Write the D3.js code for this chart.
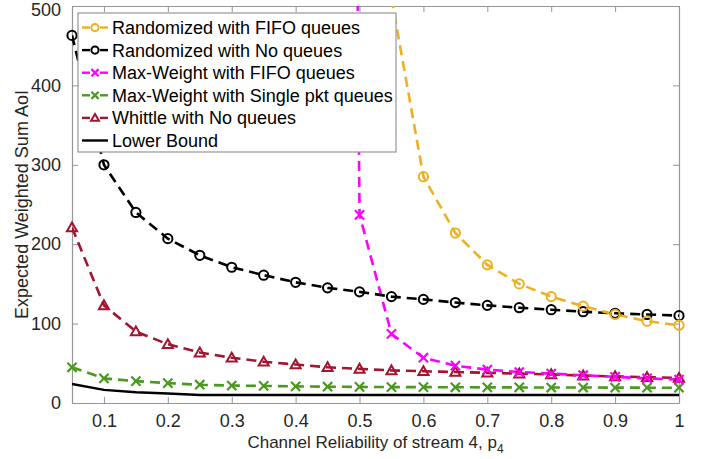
<!DOCTYPE html>
<html>
<head>
<meta charset="utf-8">
<script src="https://cdnjs.cloudflare.com/ajax/libs/d3/7.8.5/d3.min.js"></script>
<style>
  body { margin: 0; background: #fff; }
  svg { font-family: "Liberation Sans", Arial, sans-serif; }
</style>
</head>
<body>
<div id="chart"></div>
<script>
// channel reliability of stream 4
var p4 = [0.05, 0.1, 0.15, 0.2, 0.25, 0.3, 0.35, 0.4, 0.45, 0.5,
          0.55, 0.6, 0.65, 0.7, 0.75, 0.8, 0.85, 0.9, 0.95, 1];

// expected weighted sum AoI for each policy (null = not plotted / unstable)
var randFifo   = [null, null, null, null, null, null, null, null, null, null,
                  510, 285, 214, 174, 150, 134, 122, 111.5, 103, 98];
var randNoQ    = [463, 300, 240, 207, 186, 171, 161, 152, 145, 140,
                  134, 130.5, 126.5, 123, 120, 117.5, 115, 113, 111.5, 110];
var mwFifo     = [null, null, null, null, null, null, null, null, 5000, 237,
                  87, 57, 47, 42, 39, 37, 35, 33, 31, 29.5];
var mwSingle   = [45, 31, 27.5, 25, 23, 22, 21.5, 21, 20.5, 20.3,
                  20, 20, 19.8, 19.7, 19.6, 19.5, 19.5, 19.4, 19.3, 19.3];
var whittleNoQ = [221, 123, 90, 74, 63.5, 57, 52, 48.5, 45, 43,
                  41, 40, 39, 38, 37, 36, 34.5, 33.5, 32.5, 31.5];
var lowerBound = [24, 16.5, 13.5, 12, 10, 10, 10, 10, 10, 10,
                  10, 10, 10, 10, 10, 10, 10, 10, 10, 10];

var xTicks = [0.1, 0.2, 0.3, 0.4, 0.5, 0.6, 0.7, 0.8, 0.9, 1];
var yTicks = [0, 100, 200, 300, 400, 500];

var series = [
  {name: "Randomized with FIFO queues",        values: randFifo,   color: "#EDB120", marker: "circle",   dash: true},
  {name: "Randomized with No queues",          values: randNoQ,    color: "#000000", marker: "circle",   dash: true},
  {name: "Max-Weight with FIFO queues",        values: mwFifo,     color: "#FF00FF", marker: "cross",    dash: true},
  {name: "Max-Weight with Single pkt queues",  values: mwSingle,   color: "#4A9A1E", marker: "cross",    dash: true},
  {name: "Whittle with No queues",             values: whittleNoQ, color: "#A2142F", marker: "triangle", dash: true},
  {name: "Lower Bound",                        values: lowerBound, color: "#000000", marker: null,       dash: false}
];

var width = 712, height = 459;
var plot = {left: 72, top: 6, right: 679, bottom: 403};
var fontSize = "18px";

var svg = d3.select("#chart").append("svg")
    .attr("width", width)
    .attr("height", height);

var x = d3.scaleLinear().domain([0.05, 1]).range([plot.left, plot.right]);
var y = d3.scaleLinear().domain([0, 500]).range([plot.bottom, plot.top]);

svg.append("defs").append("clipPath").attr("id", "plotclip")
    .append("rect")
    .attr("x", plot.left).attr("y", plot.top)
    .attr("width", plot.right - plot.left)
    .attr("height", plot.bottom - plot.top);

var axisColor = "#969696", textColor = "#262626";

// axes: bottom/left with labels, top/right as plain box with inward ticks
var tickLen = 6;
svg.append("g")
    .attr("transform", "translate(0," + plot.bottom + ")")
    .call(d3.axisBottom(x).tickValues(xTicks).tickFormat(d3.format("")).tickSizeInner(-tickLen).tickSizeOuter(0).tickPadding(11))
    .call(styleAxis);
svg.append("g")
    .attr("transform", "translate(0," + plot.top + ")")
    .call(d3.axisTop(x).tickValues(xTicks).tickFormat("").tickSizeInner(-tickLen).tickSizeOuter(0))
    .call(styleAxis);
var yAxis = svg.append("g")
    .attr("transform", "translate(" + plot.left + ",0)")
    .call(d3.axisLeft(y).tickValues(yTicks).tickSizeInner(-tickLen).tickSizeOuter(0).tickPadding(11))
    .call(styleAxis);
svg.append("g")
    .attr("transform", "translate(" + plot.right + ",0)")
    .call(d3.axisRight(y).tickValues(yTicks).tickFormat("").tickSizeInner(-tickLen).tickSizeOuter(0))
    .call(styleAxis);

// keep the top label inside the window
yAxis.selectAll(".tick text").filter(function(d) { return d === 500; }).attr("dy", "0.55em");

function styleAxis(g) {
  g.select(".domain").attr("stroke", axisColor).attr("stroke-width", 1.2);
  g.selectAll(".tick line").attr("stroke", axisColor).attr("stroke-width", 1);
  g.selectAll(".tick text").attr("fill", textColor).style("font-size", fontSize);
}

// axis titles
svg.append("text")
    .attr("x", (plot.left + plot.right) / 2)
    .attr("y", 448)
    .attr("text-anchor", "middle")
    .attr("fill", textColor)
    .style("font-size", "17px")
    .text("Channel Reliability of stream 4, p")
  .append("tspan")
    .attr("dy", 5)
    .style("font-size", "12px")
    .text("4");

svg.append("text")
    .attr("transform", "translate(22," + ((plot.top + plot.bottom) / 2) + ") rotate(-90)")
    .attr("text-anchor", "middle")
    .attr("dy", "0.35em")
    .attr("fill", textColor)
    .style("font-size", fontSize)
    .text("Expected Weighted Sum AoI");

var line = d3.line()
    .defined(function(d) { return d[1] != null; })
    .x(function(d) { return x(d[0]); })
    .y(function(d) { return y(d[1]); });

var lines = svg.append("g").attr("clip-path", "url(#plotclip)");
var marks = svg.append("g");

function drawMarker(g, type, cx, cy, color, size) {
  if (type === "circle") {
    g.append("circle").attr("cx", cx).attr("cy", cy).attr("r", size)
      .attr("fill", "none").attr("stroke", color).attr("stroke-width", 2);
  } else if (type === "cross") {
    var s = size;
    g.append("path")
      .attr("d", "M" + (cx - s) + "," + (cy - s) + "L" + (cx + s) + "," + (cy + s) +
                 "M" + (cx - s) + "," + (cy + s) + "L" + (cx + s) + "," + (cy - s))
      .attr("stroke", color).attr("stroke-width", 2.2).attr("fill", "none");
  } else if (type === "triangle") {
    var h = size * 1.1;
    g.append("path")
      .attr("d", "M" + cx + "," + (cy - h) + "L" + (cx + h) + "," + (cy + h * 0.75) +
                 "L" + (cx - h) + "," + (cy + h * 0.75) + "Z")
      .attr("stroke", color).attr("stroke-width", 2).attr("fill", "none");
  }
}

// draw series back to front so the first legend entry sits on top
series.slice().reverse().forEach(function(s) {
  var pts = p4.map(function(p, i) { return [p, s.values[i]]; });
  lines.append("path")
    .datum(pts)
    .attr("d", line)
    .attr("fill", "none")
    .attr("stroke", s.color)
    .attr("stroke-width", s.dash ? 2.6 : 2.4)
    .attr("stroke-dasharray", s.dash ? "10,6" : null);
  if (s.marker) {
    pts.forEach(function(d) {
      if (d[1] == null || d[1] > 500) return;
      drawMarker(marks, s.marker, x(d[0]), y(d[1]), s.color, 4.6);
    });
  }
});

// legend
var legend = svg.append("g");
legend.append("rect")
    .attr("x", 78).attr("y", 13)
    .attr("width", 318).attr("height", 139)
    .attr("fill", "#fff")
    .attr("stroke", axisColor)
    .attr("stroke-width", 1.2);

series.forEach(function(s, i) {
  var ly = 27.5 + i * 22.6;
  var g = legend.append("g");
  if (s.dash) {
    g.append("line").attr("x1", 82).attr("x2", 90).attr("y1", ly).attr("y2", ly)
      .attr("stroke", s.color).attr("stroke-width", 2.4);
    g.append("line").attr("x1", 100).attr("x2", 108).attr("y1", ly).attr("y2", ly)
      .attr("stroke", s.color).attr("stroke-width", 2.4);
  } else {
    g.append("line").attr("x1", 82).attr("x2", 108).attr("y1", ly).attr("y2", ly)
      .attr("stroke", s.color).attr("stroke-width", 2.4);
  }
  if (s.marker) drawMarker(g, s.marker, 95, ly, s.color, 3.6);
  g.append("text")
    .attr("x", 112).attr("y", ly)
    .attr("dy", "0.36em")
    .attr("fill", "#000")
    .style("font-size", fontSize)
    .text(s.name);
});
</script>
</body>
</html>
